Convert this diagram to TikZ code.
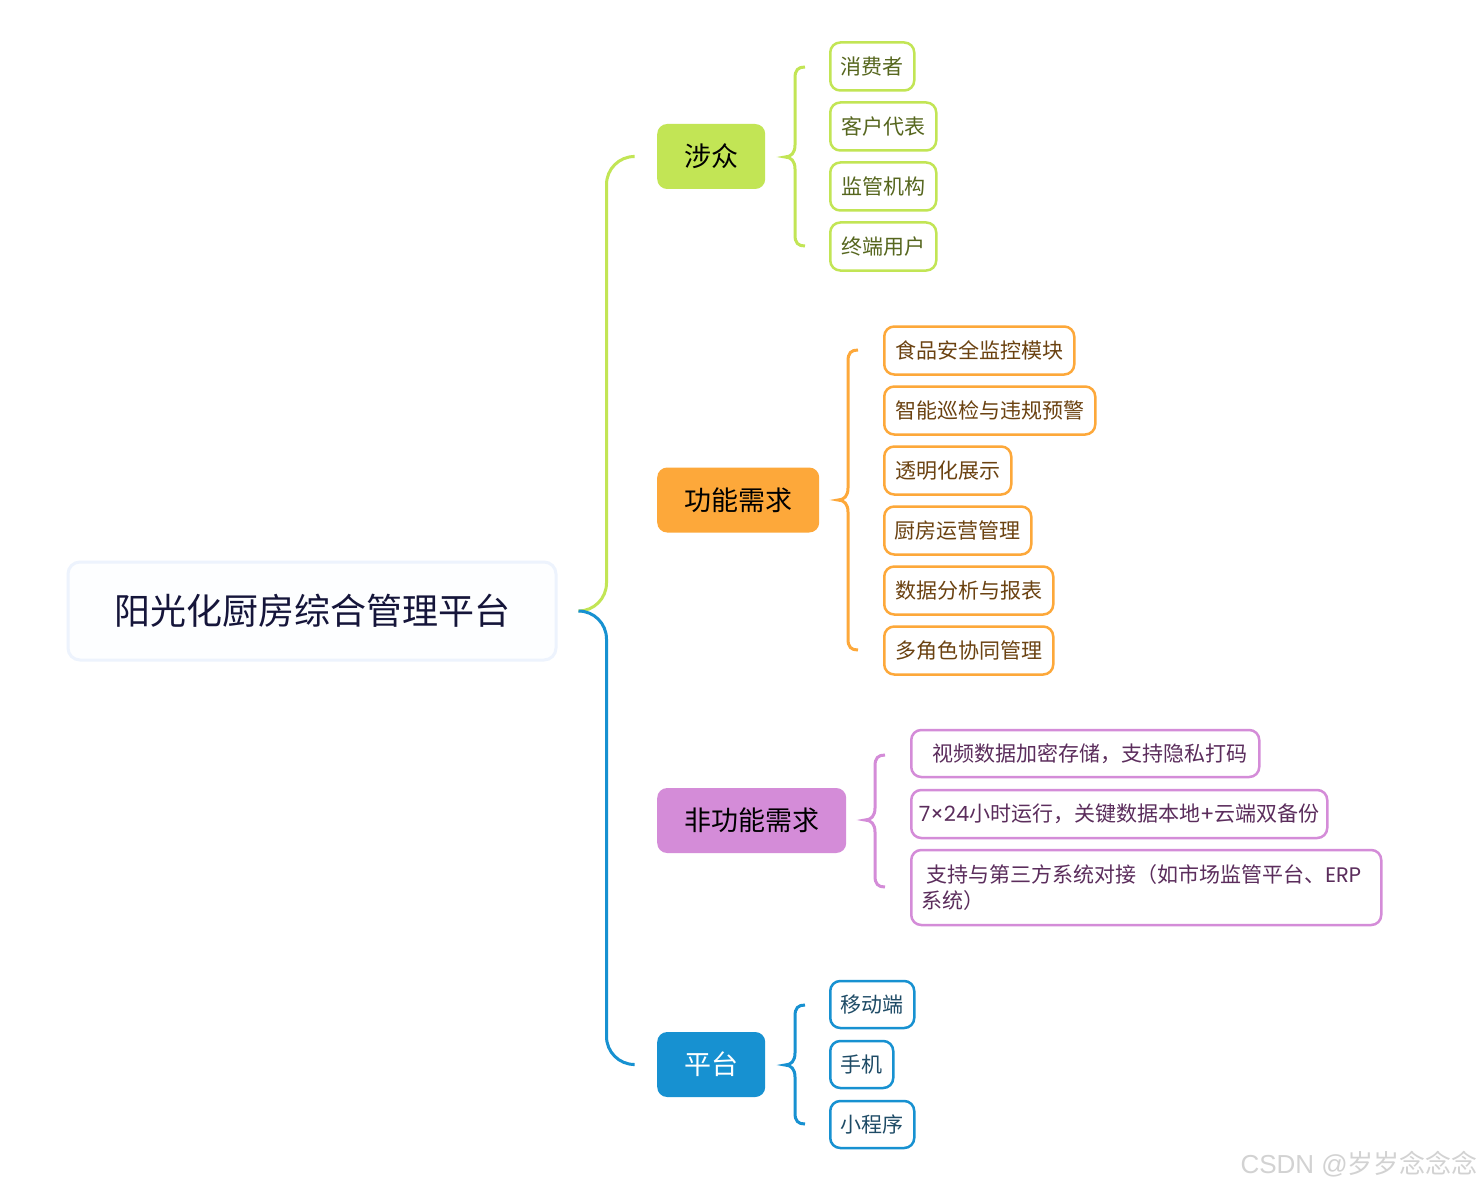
\documentclass[tikz,border=0pt]{standalone}
\usepackage{fontspec}
\setmainfont{Noto Sans CJK SC}
\newfontfamily\latinf{Poppins}
\newfontfamily\wmf{Liberation Sans}
\usetikzlibrary{calc}
\definecolor{lgreen}{HTML}{C2E555}
\definecolor{gink}{HTML}{56661E}
\definecolor{lorange}{HTML}{FDA83A}
\definecolor{oink}{HTML}{6B4211}
\definecolor{lpurple}{HTML}{D48CD8}
\definecolor{pink}{HTML}{5B2D5C}
\definecolor{lblue}{HTML}{1791D1}
\definecolor{bink}{HTML}{1E4B66}
\definecolor{rootline}{HTML}{EDF3FD}
\definecolor{rootfill}{HTML}{FDFEFF}
\definecolor{rootink}{HTML}{15153A}
\definecolor{wmgray}{HTML}{D2D2D2}
\newcommand{\mmbrace}[5]{%
  \draw[#5, line width=3pt] ({#1+20},#2) .. controls ({#1+13},#2) and ({#1+10},{#2+3}) .. ({#1+10},{#2+11})
    -- ({#1+10},{#3-12}) .. controls ({#1+10},{#3-4}) and ({#1+6},#3) .. (#1,#3)
    .. controls ({#1+6},#3) and ({#1+10},{#3+4}) .. ({#1+10},{#3+12})
    -- ({#1+10},{#4-11}) .. controls ({#1+10},{#4-3}) and ({#1+13},#4) .. ({#1+20},#4);}
\begin{document}
\begin{tikzpicture}[x=1pt,y=-1pt,
  every node/.style={inner sep=0pt},
  rootbox/.style={draw=rootline, fill=rootfill, line width=3pt, rounded corners=12pt,
    minimum width=488pt, minimum height=98pt, text=rootink, font=\fontsize{36}{40}\selectfont},
  mainbox/.style={rounded corners=10pt, minimum height=65pt, anchor=west,
    font=\fontsize{27}{31}\selectfont, text=black},
  leaf/.style={draw, line width=2.5pt, fill=white, rounded corners=10pt,
    minimum height=48pt, anchor=west, font=\fontsize{21}{26}\selectfont},
  gleaf/.style={leaf, draw=lgreen, text=gink},
  oleaf/.style={leaf, draw=lorange, text=oink},
  pleaf/.style={leaf, draw=lpurple, text=pink},
  bleaf/.style={leaf, draw=lblue, text=bink},
  trunk/.style={line width=3pt, rounded corners=28pt}
]
\useasboundingbox (0,0) rectangle (1482,1190);
\fill[white] (0,0) rectangle (1482,1190);

% root
\node[rootbox] (root) at (312,611) {阳光化厨房综合管理平台};

% main branches
\node[mainbox, fill=lgreen, minimum width=108pt] (sz) at (657,156.5) {涉众};
\node[mainbox, fill=lorange, minimum width=162pt] (gn) at (657,500) {功能需求};
\node[mainbox, fill=lpurple, minimum width=189pt] (fgn) at (657,820.5) {非功能需求};
\node[mainbox, fill=lblue, minimum width=108pt, text=white] (pt) at (657,1064.5) {平台};

% trunk connectors
\coordinate (rc) at ($(root.east)+(21,0)$);
\draw[trunk, lgreen] (rc) -- ++(28,0) |- ($(sz.west)+(-24,0)$);
\draw[trunk, lblue] (rc) -- ++(28,0) |- ($(pt.west)+(-24,0)$);

% green leaves
\node[gleaf, minimum width=84pt] (g1) at (829,66.5) {消费者};
\node[gleaf, minimum width=106pt] (g2) at (829,126.5) {客户代表};
\node[gleaf, minimum width=106pt] (g3) at (829,186.5) {监管机构};
\node[gleaf, minimum width=106pt] (g4) at (829,246.5) {终端用户};
\mmbrace{785}{67}{157}{246}{lgreen}

% orange leaves
\node[oleaf, minimum width=190pt] (o1) at (883,350.5) {食品安全监控模块};
\node[oleaf, minimum width=211pt] (o2) at (883,410.5) {智能巡检与违规预警};
\node[oleaf, minimum width=127pt] (o3) at (883,470.5) {透明化展示};
\node[oleaf, minimum width=147pt] (o4) at (883,530.5) {厨房运营管理};
\node[oleaf, minimum width=169pt] (o5) at (883,590.5) {数据分析与报表};
\node[oleaf, minimum width=169pt] (o6) at (883,650.5) {多角色协同管理};
\mmbrace{838}{350}{500}{650}{lorange}

% purple leaves
\node[pleaf, minimum width=348pt, minimum height=47pt] (p1) at (910,753.5) {\hspace*{10pt}视频数据加密存储，支持隐私打码};
\node[pleaf, minimum width=416pt] (p2) at (910,814) {{\latinf 7×24}小时运行，关键数据本地{\latinf +}云端双备份};
\node[pleaf, minimum width=470pt, minimum height=75pt, align=left, text width=450pt] (p3) at (910,887.5)
  {\hspace*{5pt}支持与第三方系统对接（如市场监管平台、{\latinf ERP}\\系统）};
\mmbrace{865}{755}{820}{887}{lpurple}

% blue leaves
\node[bleaf, minimum width=84pt, minimum height=47pt] (b1) at (829,1004.5) {移动端};
\node[bleaf, minimum width=63pt, minimum height=47pt] (b2) at (829,1064.5) {手机};
\node[bleaf, minimum width=84pt, minimum height=47pt] (b3) at (829,1124.5) {小程序};
\mmbrace{785}{1005}{1065}{1124}{lblue}

% watermark
\node[text=wmgray, anchor=east, font=\fontsize{26}{30}\selectfont] (wm) at (1478,1164) {{\wmf CSDN @}岁岁念念念};
\end{tikzpicture}
\end{document}
